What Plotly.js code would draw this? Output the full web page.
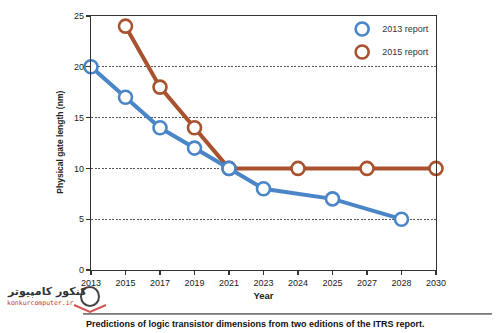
<!DOCTYPE html>
<html>
<head>
<meta charset="utf-8">
<script src="https://cdn.plot.ly/plotly-3.0.1.min.js"></script>
<style>html,body{margin:0;padding:0;background:#fff;}#chart{width:500px;height:333px;}</style>
</head>
<body>
<div id="chart"></div>
<script>
const years = ['2013','2015','2017','2019','2021','2023','2024','2025','2027','2028','2030'];
const years2013 = ['2013','2015','2017','2019','2021','2023','2025','2028'];
const values2013 = [20, 17, 14, 12, 10, 8, 7, 5];
const years2015 = ['2015','2017','2019','2021','2024','2027','2030'];
const values2015 = [24, 18, 14, 10, 10, 10, 10];
const seriesNames = ['2013 report', '2015 report'];
const yTicks = [0, 5, 10, 15, 20, 25];

const blue = '#4a86c7';
const red = '#a8522e';
const font = 'Liberation Sans, Arial, sans-serif';

function lineTrace(x, y, color) {
  return {
    x: x, y: y, type: 'scatter', mode: 'lines+markers', showlegend: false,
    cliponaxis: false,
    line: {color: color, width: 4},
    marker: {symbol: 'circle', size: 13, color: '#fff', line: {color: color, width: 2.6}}
  };
}
function legendTrace(name, color, group) {
  return {
    x: [null], y: [null], type: 'scatter', mode: 'markers', name: name, legendgroup: group,
    marker: {symbol: 'circle', size: 13, color: '#fff', line: {color: color, width: 2.6}}
  };
}

const data = [
  lineTrace(years2015, values2015, red),
  lineTrace(years2013, values2013, blue),
  legendTrace(seriesNames[0], blue, 'a'),
  legendTrace(seriesNames[1], red, 'b')
];

const layout = {
  width: 500, height: 333,
  margin: {l: 91, r: 64, t: 16, b: 63},
  paper_bgcolor: '#fff', plot_bgcolor: '#fff',
  font: {family: font, size: 9, color: '#222'},
  showlegend: true,
  legend: {
    x: 0.728, y: 1.006, xanchor: 'left', yanchor: 'top',
    bgcolor: 'rgba(0,0,0,0)', font: {size: 9, color: '#333'},
    traceorder: 'grouped', tracegroupgap: 4, itemwidth: 30
  },
  xaxis: {
    type: 'category', categoryorder: 'array', categoryarray: years,
    tickvals: years, ticktext: years,
    range: [0, 10], showgrid: false, zeroline: false,
    showline: true, linecolor: '#333', linewidth: 1.2, mirror: true,
    ticks: 'outside', ticklen: 4, tickcolor: '#333', tickwidth: 1.2,
    tickfont: {size: 9, color: '#222'},
    title: {text: '<b>Year</b>', font: {size: 9.5, color: '#222'}, standoff: 5}
  },
  yaxis: {
    range: [0, 25], tickvals: yTicks, ticktext: yTicks.map(String),
    showgrid: true, gridcolor: '#555', gridwidth: 1, griddash: '2px,1.5px',
    zeroline: false,
    showline: true, linecolor: '#333', linewidth: 1.2, mirror: true,
    ticks: 'outside', ticklen: 4, tickcolor: '#333', tickwidth: 1.2,
    tickfont: {size: 9, color: '#222'}
  },
  shapes: [
    {type: 'line', xref: 'paper', yref: 'paper', x0: -0.023, x1: 1.162, y0: -0.173, y1: -0.173,
     line: {color: '#111', width: 1}},
    {type: 'circle', xref: 'paper', yref: 'paper', x0: -0.029, x1: 0.0232, y0: -0.1417, y1: -0.0669,
     line: {color: '#444', width: 2}},
    {type: 'path', xref: 'paper', yref: 'paper',
     path: 'M -0.0493,-0.1378 L -0.0029,-0.1654 L 0.0435,-0.1378',
     line: {color: '#d9534f', width: 2}}
  ],
  annotations: [
    {text: '<b>Physical gate length (nm)</b>', xref: 'paper', yref: 'paper', x: -0.09, y: 0.505,
     textangle: -90, showarrow: false, font: {size: 8.5, color: '#222'}, xanchor: 'center', yanchor: 'middle'},
    {text: '<b>Predictions of logic transistor dimensions from two editions of the ITRS report.</b>',
     xref: 'paper', yref: 'paper', x: 0.478, y: -0.213, showarrow: false,
     font: {size: 9, color: '#111', family: 'Liberation Sans Narrow, Liberation Sans, Arial, sans-serif'},
     xanchor: 'center', yanchor: 'middle'},
    {text: '<b>کنکور کامپیوتر</b>', xref: 'paper', yref: 'paper', x: -0.249, y: -0.083,
     showarrow: false, font: {size: 11, color: '#333', family: 'DejaVu Sans, sans-serif'},
     xanchor: 'left', yanchor: 'middle'},
    {text: 'konkurcomputer.ir', xref: 'paper', yref: 'paper', x: -0.249, y: -0.13,
     showarrow: false, font: {size: 6.5, color: '#c0392b', family: 'DejaVu Sans Mono, monospace'},
     xanchor: 'left', yanchor: 'middle'}
  ]
};

Plotly.newPlot('chart', data, layout, {displayModeBar: false, staticPlot: true});
</script>
</body>
</html>
